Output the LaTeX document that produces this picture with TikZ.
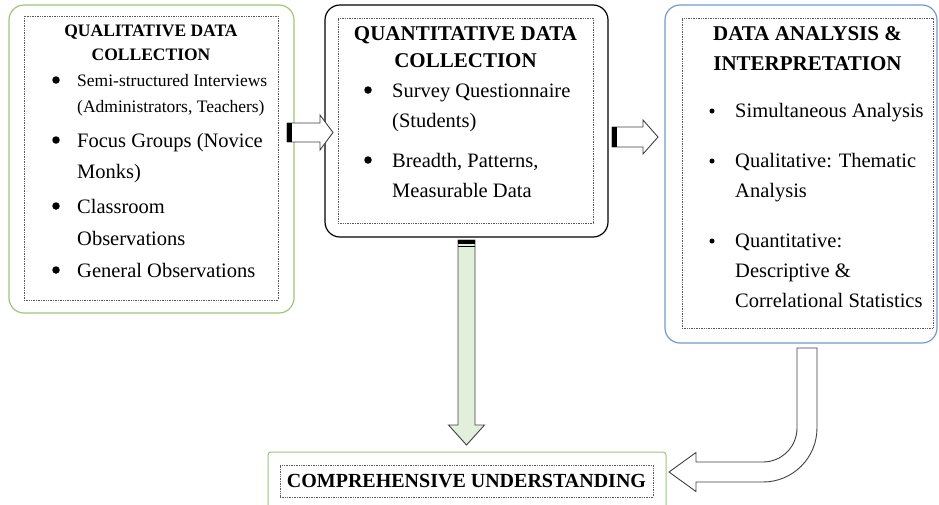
\documentclass[tikz,border=0pt]{standalone}
\usepackage{fontspec}
\setmainfont{Liberation Serif}
\definecolor{qualgreen}{RGB}{155,199,118}
\definecolor{analblue}{RGB}{114,152,214}
\definecolor{arrowgreen}{RGB}{226,239,218}
\begin{document}
\begin{tikzpicture}[x=1pt,y=-1pt,
  outer/.style={draw,rounded corners=15pt,line width=1.2pt,inner sep=0pt},
  inner/.style={draw=black!65,densely dotted,line width=0.7pt,inner sep=0pt},
  head/.style={font=\bfseries\fontsize{21}{27}\selectfont,align=center,anchor=base,inner sep=0pt},
  item/.style={font=\fontsize{20.5}{30.5}\selectfont,align=left,anchor=base west,inner sep=0pt},
  dot/.style={circle,fill=black,inner sep=0pt,minimum size=7.5pt},
  sdot/.style={circle,fill=black,inner sep=0pt,minimum size=5pt},
  blockarrow/.style={draw=black!75,line width=0.9pt,fill=white}]
  \useasboundingbox (0,0) rectangle (939,504);
  % qualitative strand (multi-line nodes sit on their last baseline)
  \node[outer,draw=qualgreen,minimum width=285,minimum height=308] (qual) at (151.5,159) {};
  \node[inner,minimum width=254,minimum height=284] (qualin) at (151,158) {};
  \node[head,font=\bfseries\fontsize{17.5}{24}\selectfont] (qualhd) at (151,60) {QUALITATIVE DATA\\COLLECTION};
  \node[dot] (qb1) at (56,80) {};
  \node[item,font=\fontsize{17.5}{26}\selectfont] (qi1) at (77,112) {Semi-structured Interviews\\(Administrators, Teachers)};
  \node[dot] (qb2) at (56,140) {};
  \node[item,font=\fontsize{20.5}{31}\selectfont] (qi2) at (77,178) {Focus Groups (Novice\\Monks)};
  \node[dot] (qb3) at (56,206) {};
  \node[item,font=\fontsize{20.5}{32}\selectfont] (qi3) at (77,245) {Classroom\\Observations};
  \node[dot] (qb4) at (56,270) {};
  \node[item] (qi4) at (77,277) {General Observations};
  % quantitative strand
  \node[outer,draw=black,minimum width=283,minimum height=232] (quant) at (466.5,121) {};
  \node[inner,minimum width=255,minimum height=205] (quantin) at (465.5,120.5) {};
  \node[head] (quanthd) at (465.5,67) {QUANTITATIVE DATA\\COLLECTION};
  \node[dot] (nb1) at (368,90) {};
  \node[item,font=\fontsize{20.5}{30}\selectfont] (ni1) at (392,127) {Survey Questionnaire\\(Students)};
  \node[dot] (nb2) at (368,160) {};
  \node[item,font=\fontsize{20.5}{30}\selectfont] (ni2) at (392,197) {Breadth, Patterns,\\Measurable Data};
  % analysis
  \node[outer,draw=analblue,minimum width=272,minimum height=338] (anal) at (801,174) {};
  \node[inner,minimum width=251,minimum height=310] (analin) at (807.5,173) {};
  \node[head,font=\bfseries\fontsize{21}{30}\selectfont] (analhd) at (807.5,70) {DATA ANALYSIS \&\\INTERPRETATION};
  \node[sdot] (ab1) at (712,111) {};
  \node[item] (ai1) at (735,117) {Simultaneous Analysis};
  \node[sdot] (ab2) at (712,161) {};
  \node[item,font=\fontsize{20.5}{30}\selectfont] (ai2) at (735,197) {Qualitative: Thematic\\Analysis};
  \node[sdot] (ab3) at (712,241) {};
  \node[item,font=\fontsize{20.5}{30}\selectfont] (ai3) at (735,307) {Quantitative:\\Descriptive \&\\Correlational Statistics};
  % outcome
  \node[outer,draw=qualgreen,rounded corners=3pt,line width=1pt,minimum width=398,minimum height=80] (comp) at (467,492) {};
  \node[inner,minimum width=373,minimum height=32] (compin) at (466.5,481) {};
  \node[head,font=\bfseries\fontsize{20}{24}\selectfont] (comphd) at (466.5,487) {COMPREHENSIVE UNDERSTANDING};
  % block arrows
  \coordinate (t1) at (287,132.5);
  \coordinate (t2) at (612,137);
  \coordinate (t3) at (466.5,240);
  \coordinate (t4) at (807,348);
  \draw[blockarrow] (t1) ++(0,-9.5) -- ++(33,0) -- ++(0,-8) -- ++(13,17.5) -- ++(-13,17.5) -- ++(0,-8) -- ++(-33,0) -- cycle;
  \fill (t1) ++(0,-9.5) rectangle ++(5,19);
  \draw[blockarrow] (t2) ++(0,-10) -- ++(31,0) -- ++(0,-7) -- ++(15,17) -- ++(-15,17) -- ++(0,-7) -- ++(-31,0) -- cycle;
  \fill (t2) ++(0,-10) rectangle ++(5,20);
  \draw[blockarrow,fill=arrowgreen] (t3) ++(-8.5,0) -- ++(0,185) -- ++(-9.5,0) -- ++(18,20) -- ++(18,-20) -- ++(-9.5,0) -- ++(0,-185) -- cycle;
  \fill (t3) ++(-8.5,0) rectangle ++(17,3.5);
  \fill (t3) ++(-8.5,5.5) rectangle ++(17,1.5);
  \draw[blockarrow] (t4) ++(10,0) -- ++(0,80) arc[start angle=0,end angle=90,radius=54]
    -- (696,482) -- (696,491.5) -- (669,472) -- (696,452.5) -- (696,462) -- (763,462)
    arc[start angle=90,end angle=0,radius=34] -- (797,348) -- cycle;
\end{tikzpicture}
\end{document}
